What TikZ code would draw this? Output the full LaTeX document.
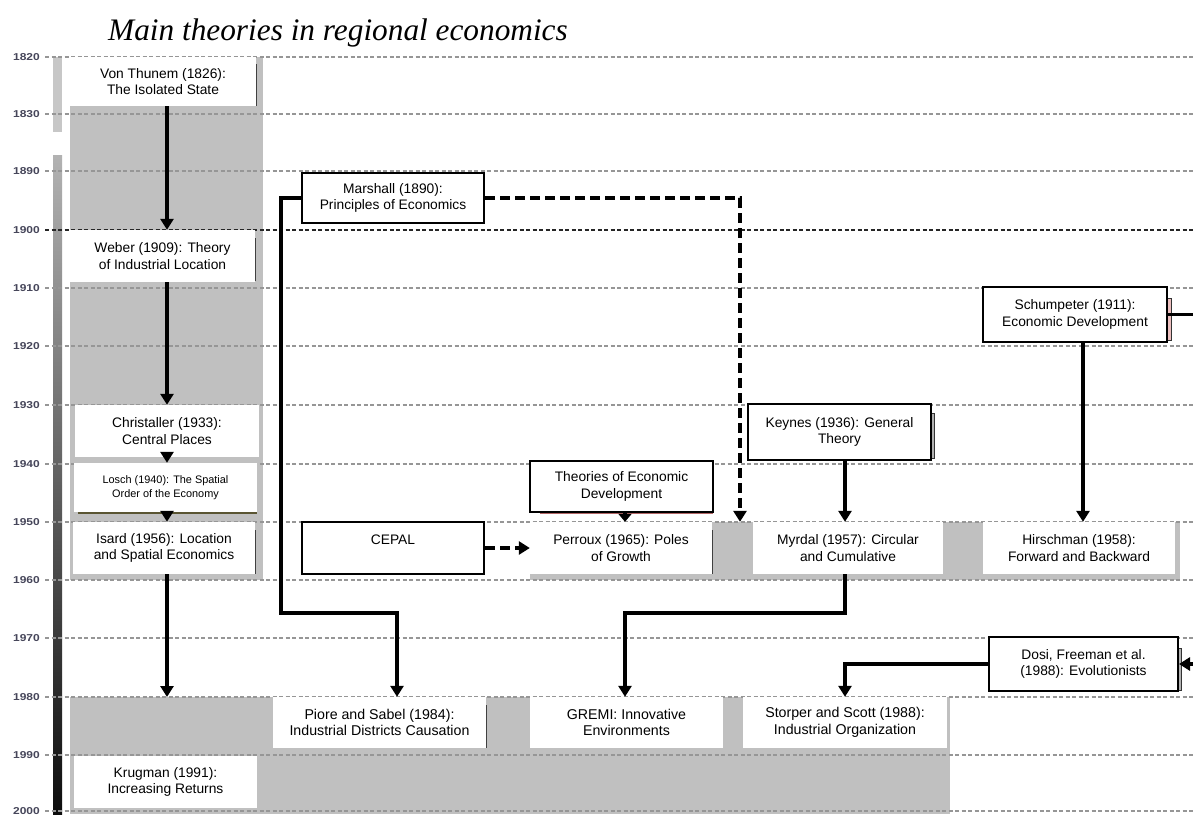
\documentclass[tikz,border=0pt]{standalone}
\usepackage{fontspec}
\setmainfont{Liberation Sans}
\newfontfamily\titlefont{Liberation Serif}
\usetikzlibrary{arrows.meta,calc}
\definecolor{bandgray}{RGB}{192,192,192}
\definecolor{gridgray}{RGB}{150,150,150}
\definecolor{yearcol}{RGB}{70,70,90}
\definecolor{shadowpink}{RGB}{235,190,190}
\definecolor{olive}{RGB}{90,85,50}
\tikzset{
  wbox/.style={fill=white, inner sep=0pt, align=center, font=\fontsize{13.8}{16.5}\selectfont},
  bbox/.style={wbox, draw=black, line width=2pt},
  nbox/.style={wbox, font=\fontsize{14.2}{16.5}\selectfont},
  conn/.style={line width=3.2pt, -{Triangle[width=13pt,length=11pt]}},
  dconn/.style={conn, dash pattern=on 10pt off 5pt},
  gridline/.style={draw=gridgray, line width=1.3pt, dash pattern=on 4pt off 2.5pt},
  yearlab/.style={anchor=east, inner sep=0pt, text=yearcol, font=\bfseries\fontsize{10}{10}\selectfont},
  shadowline/.style={draw=black!75, line width=1.2pt}
}
\newcommand\mybox[6]{\node[#1, minimum width={(#5)-(#3)}, minimum height={(#6)-(#4)}] (#2) at ({((#3)+(#5))/2},{((#4)+(#6))/2})}
\begin{document}
\begin{tikzpicture}[x=1pt,y=-1pt]
\useasboundingbox (0,0) rectangle (1193,814);
\fill[white] (0,0) rectangle (1193,814);
% title
\node[anchor=base west, inner sep=0pt, font=\titlefont\itshape\fontsize{31.3}{36}\selectfont] (title) at (108,40) {Main theories in regional economics};
% gray bands
\fill[bandgray] (70,57) rectangle (263,580);
\fill[bandgray] (530,522) rectangle (1180,580);
\fill[bandgray] (70,697) rectangle (950,814);
% left time bar
\fill[black!22] (53,57) rectangle (62,132);
\shade[top color=black!30, middle color=black!72, bottom color=black!95] (53,155) rectangle (62,814);
% grid lines and years
\foreach \yy/\lab in {57/1820,114/1830,171/1890,288/1910,346/1920,405/1930,464/1940,522/1950,580/1960,638/1970,697/1980,755/1990,811/2000}{
  \draw[gridline] (45,\yy) -- (1193,\yy);
  \node[yearlab] at (40,\yy) {\scalebox{1.2}[1]{\lab}};
}
\draw[gridline, draw=black!85] (45,230) -- (1193,230);
\node[yearlab] at (40,230) {\scalebox{1.2}[1]{1900}};
% shadows
\draw[shadowline] (256.5,64) -- (256.5,106);
\draw[shadowline] (255.5,238) -- (255.5,281);
\draw[draw=olive, line width=1.2pt] (78,513) -- (257,513);
\draw[shadowline] (255.5,530) -- (255.5,574);
\draw[shadowline] (712.5,530) -- (712.5,574);
\draw[shadowline] (486.5,705) -- (486.5,748);
\draw[draw=black!80, line width=0.8pt, fill=black!30] (931,413) rectangle (934,458);
\draw[draw=black!80, line width=0.8pt, fill=shadowpink] (1167,298) rectangle (1171,340);
\draw[draw=black!80, line width=0.8pt, fill=black!30] (1178,648) rectangle (1181,690);
\draw[draw=black!50!red!60, line width=1pt] (540,513) -- (713,513);
% left column boxes
\mybox{wbox}{vt}{70}{57}{256}{106} {Von Thunem (1826):\\The Isolated State};
\mybox{wbox}{we}{70}{230}{255}{282} {Weber (1909): Theory\\of Industrial Location};
\mybox{wbox}{ch}{75}{405}{259}{457} {Christaller (1933):\\Central Places};
\mybox{wbox, font=\fontsize{10.9}{14}\selectfont}{lo}{74}{463}{257}{512} {Losch (1940): The Spatial\\Order of the Economy};
\mybox{wbox}{is}{73}{522}{255}{574} {Isard (1956): Location\\and Spatial Economics};
\mybox{wbox}{kr}{74}{756}{257}{808} {Krugman (1991):\\Increasing Returns};
% bordered boxes
\mybox{bbox}{ma}{302}{173}{484}{223} {Marshall (1890):\\Principles of Economics};
\mybox{bbox}{ce}{302}{522}{484}{574} {CEPAL\\\phantom{X}};
\mybox{bbox}{te}{530}{461}{713}{512} {Theories of Economic\\Development};
\mybox{bbox}{ke}{748}{404}{931}{460} {Keynes (1936): General\\Theory};
\mybox{bbox}{sc}{983}{287}{1167}{342} {Schumpeter (1911):\\Economic Development};
\mybox{bbox}{do}{989}{637}{1178}{691} {Dosi, Freeman et al.\\(1988): Evolutionists};
% white boxes in bands
\mybox{wbox}{pe}{530}{522}{712}{574} {Perroux (1965): Poles\\of Growth};
\mybox{wbox}{my}{753}{522}{943}{574} {Myrdal (1957): Circular\\and Cumulative};
\mybox{wbox}{hi}{983}{522}{1175}{574} {Hirschman (1958):\\Forward and Backward};
\mybox{nbox}{pi}{273}{697}{486}{748} {Piore and Sabel (1984):\\Industrial Districts Causation};
\mybox{nbox}{gr}{530}{697}{723}{748} {GREMI: Innovative\\Environments};
\mybox{nbox}{st}{743}{697}{947}{748} {Storper and Scott (1988):\\Industrial Organization};
% helper coordinates
\coordinate (lx) at (167,0);
\coordinate (kx) at (845,0);
\coordinate (hx) at (1083,0);
\coordinate (px) at (397,0);
\coordinate (gx) at (625,0);
\coordinate (mx) at (281,0);
\coordinate (dx) at (740,0);
\coordinate (j1) at (0,613);
\coordinate (g3top) at (167,697);
\coordinate (rightedge) at (1200,0);
% left column connectors
\draw[conn] (vt.south -| lx) -- (we.north -| lx);
\draw[conn] (we.south -| lx) -- (ch.north -| lx);
\draw[conn] (ch.south -| lx) -- (lo.north -| lx);
\draw[conn] (lo.south -| lx) -- (is.north -| lx);
\draw[conn] (is.south -| lx) -- (g3top);
% Marshall
\draw[conn] (ma.west) -- (ma.west -| mx) |- (px |- j1) -- (px |- pi.north);
\draw[dconn] (ma.east) -- (ma.east -| dx) -- (dx |- pe.north);
% CEPAL
\draw[dconn] (ce.east) -- (pe.west);
% Theories
\draw[line width=3.2pt, -{Triangle[width=13pt,length=8pt]}] (te.south -| gx) -- (pe.north -| gx);
% Keynes
\draw[conn] (ke.south -| kx) -- (my.north -| kx);
% Schumpeter
\draw[conn] (sc.south -| hx) -- (hi.north -| hx);
\draw[line width=3.2pt] (sc.east) -- (sc.east -| rightedge);
% Myrdal -> GREMI
\draw[conn] (my.south -| kx) -- (kx |- j1) -| (gr.north -| gx);
% Dosi
\draw[conn] (do.west) -| (st.north -| kx);
\draw[conn] (do.east -| rightedge) -- (do.east);
\end{tikzpicture}
\end{document}
